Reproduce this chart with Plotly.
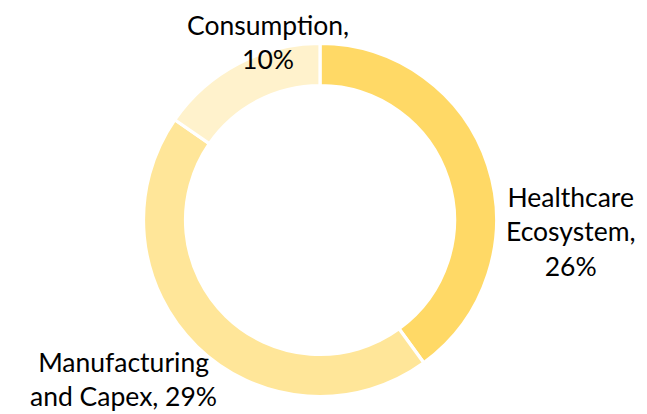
import plotly.graph_objects as go

# Portfolio split by theme (share values, %)
labels = ["Healthcare Ecosystem", "Manufacturing and Capex", "Consumption"]
values = [26, 29, 10]
colors = ["#FFD966", "#FFE699", "#FFF2CC"]

# How each slice caption is broken into lines
label_lines = [
    ["Healthcare", "Ecosystem,", "{v}%"],
    ["Manufacturing", "and Capex, {v}%"],
    ["Consumption,", "{v}%"],
]

W, H = 647, 414
cx, cy, r = 320, 220, 176.5

fig = go.Figure(
    go.Pie(
        labels=labels,
        values=values,
        sort=False,
        direction="clockwise",
        rotation=0,
        hole=0.762,
        marker=dict(colors=colors, line=dict(color="white", width=3.2)),
        textinfo="none",
        hoverinfo="label+value",
        showlegend=False,
        domain=dict(
            x=[(cx - r) / W, (cx + r) / W],
            y=[(H - cy - r) / H, (H - cy + r) / H],
        ),
    )
)

# caption anchor points (pixels from top-left)
caption_pos = [(570, 231), (123, 379), (268, 42)]

for lines, v, (px, py) in zip(label_lines, values, caption_pos):
    text = "<br>".join(l.format(v=v) for l in lines)
    fig.add_annotation(
        x=px / W,
        y=1 - py / H,
        xref="paper",
        yref="paper",
        text=text,
        showarrow=False,
        xanchor="center",
        yanchor="middle",
        align="center",
        font=dict(family="Lato", size=26.5, color="#000000"),
    )

fig.update_layout(
    width=W,
    height=H,
    margin=dict(l=0, r=0, t=0, b=0),
    paper_bgcolor="white",
    plot_bgcolor="white",
)

fig.write_html("out.html")
